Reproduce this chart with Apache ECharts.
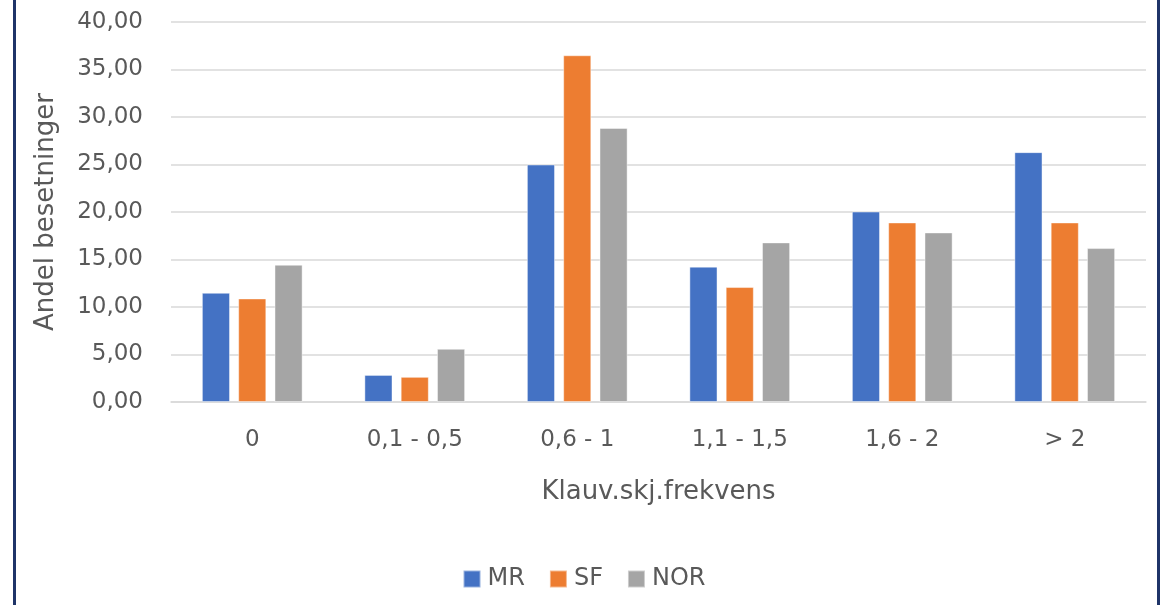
<!DOCTYPE html>
<html>
<head>
<meta charset="utf-8">
<title>Klauv.skj.frekvens</title>
<script src="https://cdn.jsdelivr.net/npm/echarts@6/dist/echarts.min.js"></script>
<style>
    html, body {
        margin: 0;
        padding: 0;
        background: #fff;
    }
    #chart {
        position: absolute;
        left: 0;
        top: 0;
        width: 1168px;
        height: 605px;
    }
    /* mørkeblå ramme rundt diagrammet */
    .frame {
        position: absolute;
        left: 13px;
        top: 0;
        width: 1141px;
        height: 605px;
        border-left: 3px solid #1f3468;
        border-right: 3px solid #1f3468;
        pointer-events: none;
    }
</style>
</head>
<body>
<div id="chart"></div>
<div class="frame"></div>
<script>
// kategorier og verdier
const categories = ['0', '0,1 - 0,5', '0,6 - 1', '1,1 - 1,5', '1,6 - 2', '> 2'];
const mrValues = [11.5, 2.85, 25.0, 14.25, 20.05, 26.3];
const sfValues = [10.9, 2.65, 36.5, 12.1, 18.9, 18.9];
const norValues = [14.45, 5.6, 28.85, 16.8, 17.85, 16.2];
const seriesNames = ['MR', 'SF', 'NOR'];
const colors = ['#4472c4', '#ed7d31', '#a5a5a5'];

const fontFamily = '"DejaVu Sans", sans-serif';
const textColor = '#595959';

const chart = echarts.init(document.getElementById('chart'));

function barSeries(name, data) {
    return {
        name: name,
        type: 'bar',
        data: data,
        barGap: '29%',
        barCategoryGap: '38%',
        itemStyle: {
            borderColor: 'rgba(255,255,255,0.45)',
            borderWidth: 1
        }
    };
}

const option = {
    animation: false,
    color: colors,
    textStyle: { fontFamily: fontFamily },
    grid: {
        left: 171,
        right: 22,
        top: 22,
        bottom: 203
    },
    legend: {
        bottom: 9,
        left: 'center',
        icon: 'rect',
        itemWidth: 17,
        itemHeight: 17,
        itemGap: 24,
        textStyle: {
            color: textColor,
            fontSize: 24,
            fontFamily: fontFamily,
            padding: [0, 0, 0, 2]
        },
        data: seriesNames
    },
    xAxis: {
        type: 'category',
        data: categories,
        name: 'Klauv.skj.frekvens',
        nameLocation: 'middle',
        nameGap: 77,
        nameTextStyle: {
            color: textColor,
            fontSize: 26
        },
        axisLine: { lineStyle: { color: '#d9d9d9', width: 1.5 } },
        axisTick: { show: false },
        axisLabel: {
            color: textColor,
            fontSize: 23,
            margin: 27
        }
    },
    yAxis: {
        type: 'value',
        min: 0,
        max: 40,
        interval: 5,
        name: 'Andel besetninger',
        nameLocation: 'middle',
        nameGap: 112,
        nameTextStyle: {
            color: textColor,
            fontSize: 26
        },
        axisLine: { show: false },
        axisTick: { show: false },
        splitLine: { lineStyle: { color: '#d9d9d9', width: 1.5 } },
        axisLabel: {
            color: textColor,
            fontSize: 23,
            margin: 28,
            formatter: function (v) {
                return v.toFixed(2).replace('.', ',');
            }
        }
    },
    series: [
        barSeries(seriesNames[0], mrValues),
        barSeries(seriesNames[1], sfValues),
        barSeries(seriesNames[2], norValues)
    ]
};

chart.setOption(option);
</script>
</body>
</html>
